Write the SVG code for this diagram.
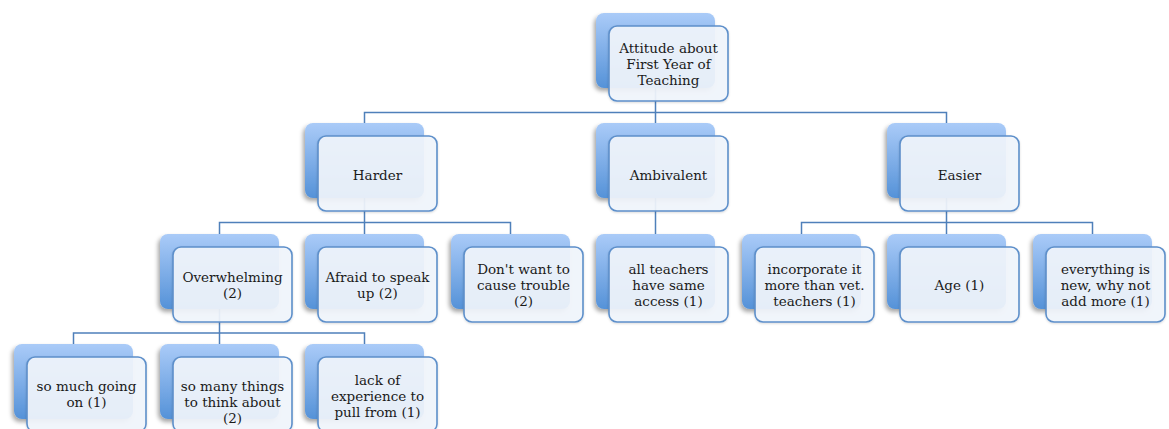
<svg xmlns="http://www.w3.org/2000/svg" width="1169" height="429" viewBox="0 0 1169 429">
<style>
.bk{fill:url(#g);filter:url(#sh)}
.fr{fill:#f1f5fc;fill-opacity:0.92;stroke:#5d8fca;stroke-width:1.6;filter:url(#sh2)}
.t{font-family:"DejaVu Serif","Liberation Serif",serif;font-size:13.5px;fill:#1a1a1a;text-anchor:middle}
.c{fill:none;stroke:#4f80ba;stroke-width:1.5}
</style>
<defs>
<linearGradient id="g" x1="0" y1="0" x2="0" y2="1">
<stop offset="0" stop-color="#aacbf8"/>
<stop offset="1" stop-color="#5592d8"/>
</linearGradient>
<filter id="sh" x="-20%" y="-20%" width="140%" height="150%">
<feDropShadow dx="-2" dy="3" stdDeviation="2" flood-color="#000" flood-opacity="0.35"/>
</filter>
<filter id="sh2" x="-20%" y="-20%" width="140%" height="150%">
<feDropShadow dx="0" dy="1" stdDeviation="1" flood-color="#000" flood-opacity="0.15"/>
</filter>
</defs>
<g id="connectors">
<path class="c" d="M655.5 88V112.5M364.5 123V112.5H946.5V123M655.5 112.5V123"/>
<path class="c" d="M364.5 198V222.5M219.5 234V222.5H510.5V234M364.5 222.5V234"/>
<path class="c" d="M655.5 198V234"/>
<path class="c" d="M946.5 198V222.5M801.5 234V222.5H1092.5V234M946.5 222.5V234"/>
<path class="c" d="M219.5 308V333M73.5 344V333H364.5V344M219.5 333V344"/>
</g>
<g id="root">
<rect class="bk" x="596" y="13" width="119" height="75" rx="8"/>
<rect class="fr" x="609" y="26" width="119" height="75" rx="8"/>
<text class="t" x="668.5" y="53">Attitude about</text>
<text class="t" x="668.5" y="69">First Year of</text>
<text class="t" x="668.5" y="85">Teaching</text>
</g>
<g id="harder">
<rect class="bk" x="305" y="123" width="119" height="75" rx="8"/>
<rect class="fr" x="318" y="136" width="119" height="75" rx="8"/>
<text class="t" x="377.5" y="179.5">Harder</text>
</g>
<g id="ambivalent">
<rect class="bk" x="596" y="123" width="119" height="75" rx="8"/>
<rect class="fr" x="609" y="136" width="119" height="75" rx="8"/>
<text class="t" x="668.5" y="179.5">Ambivalent</text>
</g>
<g id="easier">
<rect class="bk" x="887" y="123" width="119" height="75" rx="8"/>
<rect class="fr" x="900" y="136" width="119" height="75" rx="8"/>
<text class="t" x="959.5" y="179.5">Easier</text>
</g>
<g id="overwhelming">
<rect class="bk" x="160" y="234" width="119" height="75" rx="8"/>
<rect class="fr" x="173" y="247" width="119" height="75" rx="8"/>
<text class="t" x="232.5" y="282">Overwhelming</text>
<text class="t" x="232.5" y="298">(2)</text>
</g>
<g id="afraid">
<rect class="bk" x="305" y="234" width="119" height="75" rx="8"/>
<rect class="fr" x="318" y="247" width="119" height="75" rx="8"/>
<text class="t" x="377.5" y="282">Afraid to speak</text>
<text class="t" x="377.5" y="298">up (2)</text>
</g>
<g id="dontwant">
<rect class="bk" x="451" y="234" width="119" height="75" rx="8"/>
<rect class="fr" x="464" y="247" width="119" height="75" rx="8"/>
<text class="t" x="523.5" y="274">Don't want to</text>
<text class="t" x="523.5" y="290">cause trouble</text>
<text class="t" x="523.5" y="306">(2)</text>
</g>
<g id="allteachers">
<rect class="bk" x="596" y="234" width="119" height="75" rx="8"/>
<rect class="fr" x="609" y="247" width="119" height="75" rx="8"/>
<text class="t" x="668.5" y="274">all teachers</text>
<text class="t" x="668.5" y="290">have same</text>
<text class="t" x="668.5" y="306">access (1)</text>
</g>
<g id="incorporate">
<rect class="bk" x="742" y="234" width="119" height="75" rx="8"/>
<rect class="fr" x="755" y="247" width="119" height="75" rx="8"/>
<text class="t" x="814.5" y="274">incorporate it</text>
<text class="t" x="814.5" y="290">more than vet.</text>
<text class="t" x="814.5" y="306">teachers (1)</text>
</g>
<g id="age">
<rect class="bk" x="887" y="234" width="119" height="75" rx="8"/>
<rect class="fr" x="900" y="247" width="119" height="75" rx="8"/>
<text class="t" x="959.5" y="290">Age (1)</text>
</g>
<g id="everything">
<rect class="bk" x="1033" y="234" width="119" height="75" rx="8"/>
<rect class="fr" x="1046" y="247" width="119" height="75" rx="8"/>
<text class="t" x="1105.5" y="274">everything is</text>
<text class="t" x="1105.5" y="290">new, why not</text>
<text class="t" x="1105.5" y="306">add more (1)</text>
</g>
<g id="somuch">
<rect class="bk" x="14" y="344" width="119" height="75" rx="8"/>
<rect class="fr" x="27" y="357" width="119" height="75" rx="8"/>
<text class="t" x="86.5" y="391">so much going</text>
<text class="t" x="86.5" y="407">on (1)</text>
</g>
<g id="somany">
<rect class="bk" x="160" y="344" width="119" height="75" rx="8"/>
<rect class="fr" x="173" y="357" width="119" height="75" rx="8"/>
<text class="t" x="232.5" y="391">so many things</text>
<text class="t" x="232.5" y="407">to think about</text>
<text class="t" x="232.5" y="423">(2)</text>
</g>
<g id="lack">
<rect class="bk" x="305" y="344" width="119" height="75" rx="8"/>
<rect class="fr" x="318" y="357" width="119" height="75" rx="8"/>
<text class="t" x="377.5" y="385">lack of</text>
<text class="t" x="377.5" y="401">experience to</text>
<text class="t" x="377.5" y="417">pull from (1)</text>
</g>
</svg>
